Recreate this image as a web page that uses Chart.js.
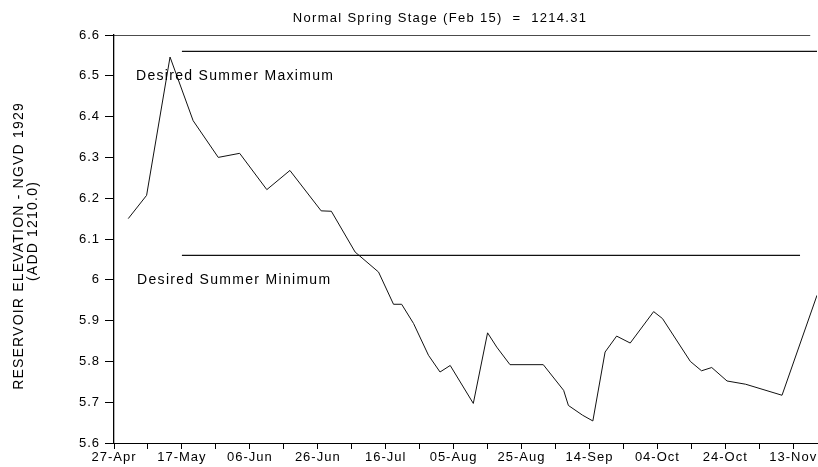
<!DOCTYPE html>
<html>
<head>
<meta charset="utf-8">
<script src="https://cdn.jsdelivr.net/npm/chart.js@4/dist/chart.umd.min.js"></script>
<style>
  html, body { margin: 0; padding: 0; background: #fff; }
  #wrap { width: 818px; height: 467px; }
</style>
</head>
<body>
<div id="wrap"><canvas id="elevChart"></canvas></div>
<script>
// days after 27-Apr, and elevation (ft above 1210.0)
const days = [4.2, 9.6, 16.5, 23.3, 30.7, 37, 45, 51.8, 61, 64, 71, 77.9, 82.3, 84.7, 88.2, 92.6, 96, 99, 105.8, 110, 112.7, 116.6, 126.4, 132.4, 133.8, 138, 141, 144.6, 148, 152, 158.9, 161.5, 169.7, 173, 176, 180.5, 186, 196.7, 207];
const elevation = [6.15, 6.207, 6.546, 6.39, 6.30, 6.31, 6.221, 6.268, 6.169, 6.168, 6.068, 6.019, 5.94, 5.94, 5.893, 5.815, 5.774, 5.79, 5.697, 5.87, 5.835, 5.792, 5.792, 5.729, 5.692, 5.668, 5.654, 5.823, 5.862, 5.845, 5.922, 5.905, 5.80, 5.777, 5.785, 5.752, 5.744, 5.717, 5.962];

const tickLabels = ["27-Apr", "17-May", "06-Jun", "26-Jun", "16-Jul", "05-Aug", "25-Aug", "14-Sep", "04-Oct", "24-Oct", "13-Nov"];

const springStage = 6.6;
const springDays = [0, 205];
const summerMax = 6.56;
const summerMaxDays = [20, 207];
const summerMin = 6.06;
const summerMinDays = [20, 202];

const FONT = "'Liberation Sans', Arial, sans-serif";

// wider letter spacing like the scanned original
const spacingPlugin = {
  id: "spacing",
  beforeDraw(chart) { chart.ctx.letterSpacing = "1px"; }
};

// mode: "left", "center" or "vertical"
function drawText(ctx, txt, x, y, size, spacing, mode) {
  ctx.save();
  ctx.fillStyle = "#000";
  ctx.font = size + "px " + FONT;
  ctx.letterSpacing = spacing + "px";
  ctx.textBaseline = "middle";
  ctx.textAlign = mode == "left" ? "left" : "center";
  ctx.translate(x, y);
  if (mode == "vertical") ctx.rotate(-Math.PI / 2);
  ctx.fillText(txt, 0, 0);
  ctx.restore();
}

const textPlugin = {
  id: "texts",
  afterDraw(chart) {
    const ctx = chart.ctx;
    const x = chart.scales.x, y = chart.scales.y;
    drawText(ctx, "Desired Summer Maximum", x.getPixelForValue(6.5), y.getPixelForValue(6.5), 14, 1.3, "left");
    drawText(ctx, "Desired Summer Minimum", x.getPixelForValue(6.8), y.getPixelForValue(6.0), 14, 1.3, "left");
    drawText(ctx, "Normal Spring Stage (Feb 15)  =  1214.31", 440, chart.chartArea.top - 17, 13, 1.3, "center");
    drawText(ctx, "RESERVOIR ELEVATION - NGVD 1929", 19, 246, 14, 1.2, "vertical");
    drawText(ctx, "(ADD 1210.0)", 33, 231, 14, 1.2, "vertical");
  }
};

function flat(xs, v) {
  return xs.map(d => ({ x: d, y: v }));
}

const lineStyle = { borderColor: "#111", borderWidth: 1, pointRadius: 0, fill: false, tension: 0 };

new Chart(document.getElementById("elevChart"), {
  type: "line",
  data: {
    datasets: [
      Object.assign({ label: "Elevation", data: days.map((d, i) => ({ x: d, y: elevation[i] })) }, lineStyle),
      Object.assign({ label: "Normal Spring Stage", data: flat(springDays, springStage) }, lineStyle, { borderWidth: 1.3 }),
      Object.assign({ label: "Desired Summer Maximum", data: flat(summerMaxDays, summerMax) }, lineStyle, { borderWidth: 1.3 }),
      Object.assign({ label: "Desired Summer Minimum", data: flat(summerMinDays, summerMin) }, lineStyle, { borderWidth: 1.3 }),
    ],
  },
  options: {
    responsive: true,
    maintainAspectRatio: false,
    animation: false,
    layout: { padding: { top: 35, right: 1, bottom: 0, left: 0 } },
    plugins: { legend: { display: false }, tooltip: { enabled: false }, title: { display: false } },
    scales: {
      x: {
        type: "linear",
        min: 0,
        max: 207,
        afterFit: s => { s.height = 24; },
        ticks: {
          stepSize: 10,
          includeBounds: false,
          autoSkip: false,
          maxRotation: 0,
          color: "#000",
          font: { family: FONT, size: 13 },
          padding: 1,
          callback: v => (v % 20 === 0 ? tickLabels[v / 20] : ""),
        },
        grid: { drawOnChartArea: false, tickLength: 6, color: "#000" },
        border: { color: "#000", width: 1 },
      },
      y: {
        min: 5.6,
        max: 6.6,
        afterFit: s => { s.width = 114; },
        ticks: {
          stepSize: 0.1,
          color: "#000",
          font: { family: FONT, size: 13 },
          padding: 5,
          callback: v => String(+v.toFixed(1)),
        },
        grid: { drawOnChartArea: false, tickLength: 9, color: "#000" },
        border: { color: "#000", width: 1.3 },
      },
    },
  },
  plugins: [spacingPlugin, textPlugin],
});
</script>
</body>
</html>
